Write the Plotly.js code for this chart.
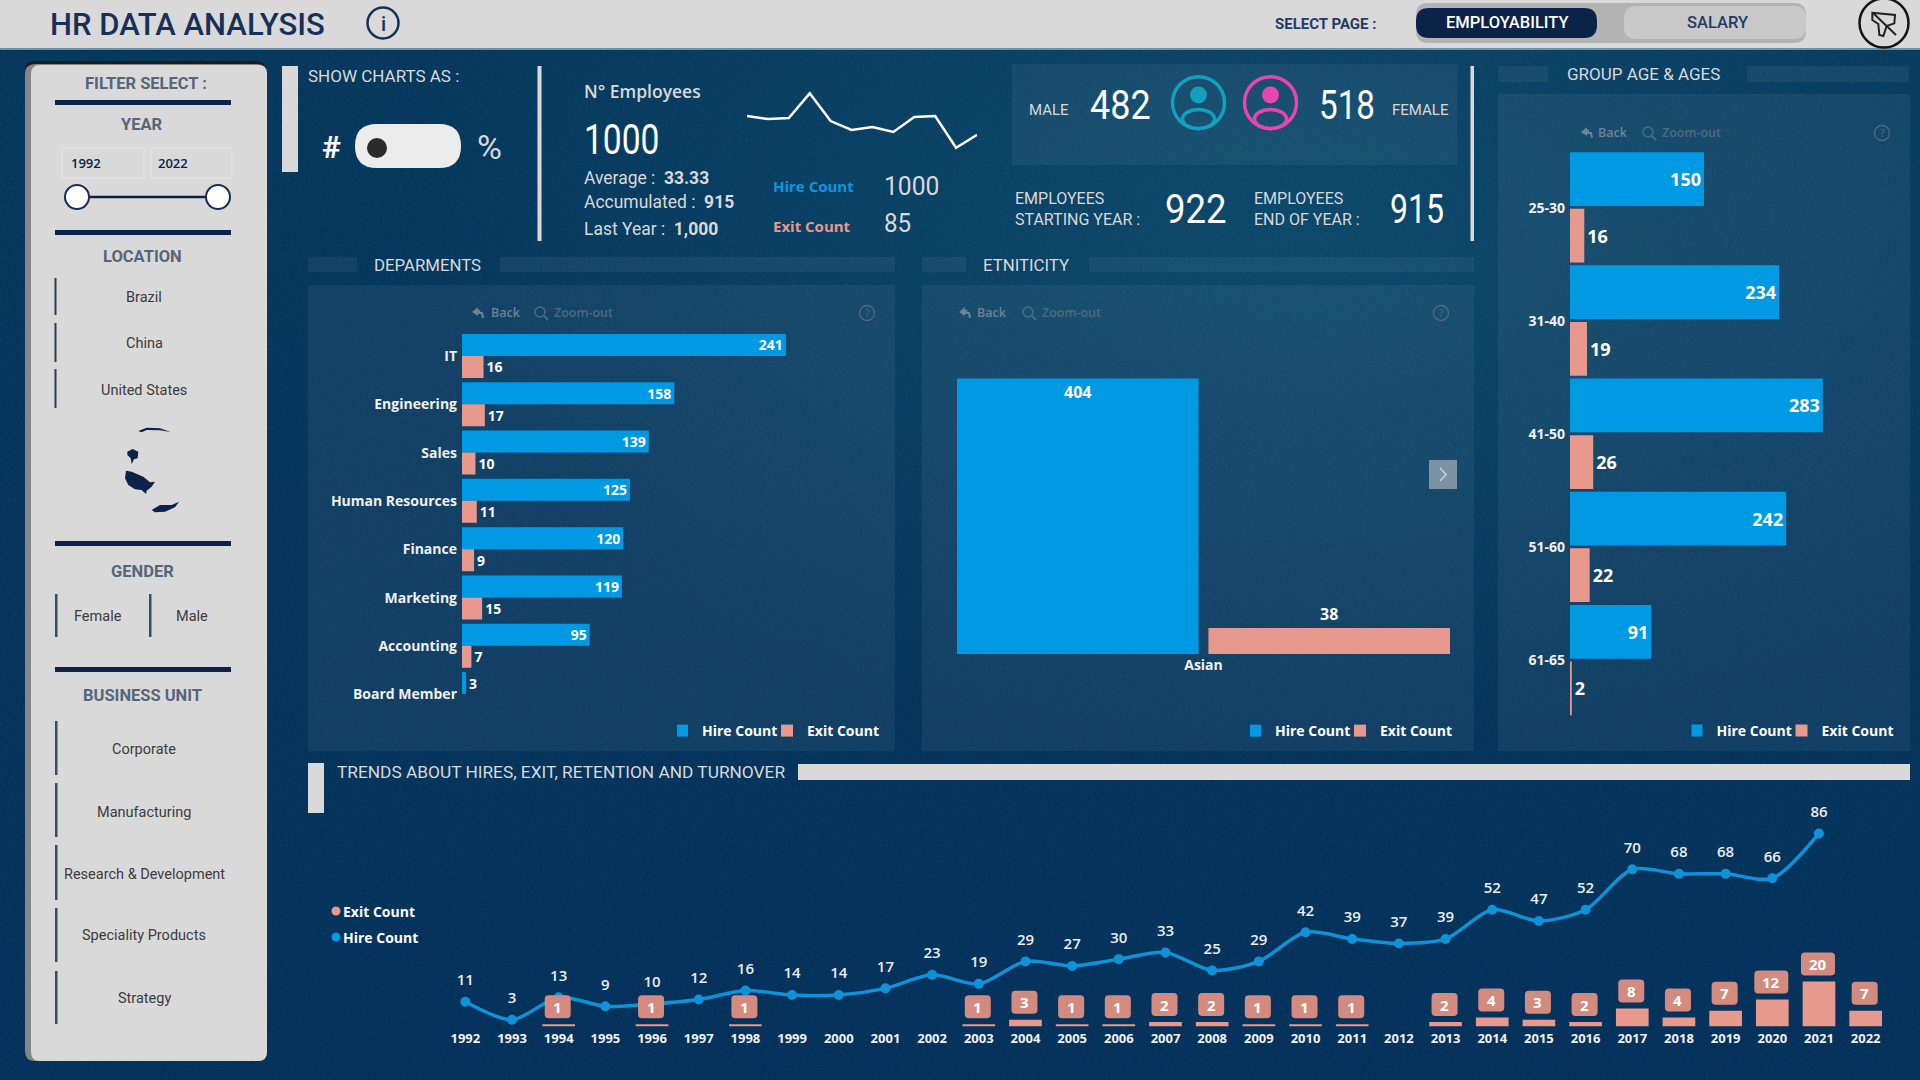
<!DOCTYPE html>
<html><head><meta charset="utf-8"><title>HR Data Analysis</title>
<script src="https://cdn.plot.ly/plotly-3.0.1.min.js"></script>
<style>
html,body{margin:0;padding:0;width:1920px;height:1080px;overflow:hidden;background:#04355b;}
#bg{position:absolute;left:0;top:0;width:1920px;height:1080px;
background:radial-gradient(ellipse 900px 520px at 1300px 230px,#0b4769 0%,rgba(11,71,105,0) 100%),linear-gradient(180deg,#04375c 0%,#02305a 100%);}
#tx{position:absolute;left:0;top:0;width:1920px;height:1080px;opacity:.09;
background-image:url("data:image/svg+xml,%3Csvg xmlns='http://www.w3.org/2000/svg' width='600' height='600'%3E%3Cfilter id='n'%3E%3CfeTurbulence type='fractalNoise' baseFrequency='.35 .55' numOctaves='3' seed='4'/%3E%3CfeColorMatrix values='0 0 0 0 .7 0 0 0 0 .85 0 0 0 0 .95 .9 0 0 0 -.3'/%3E%3C/filter%3E%3Crect width='600' height='600' filter='url(%23n)'/%3E%3C/svg%3E");}
#chart{position:absolute;left:0;top:0;width:1920px;height:1080px;}
</style></head><body>
<div id="bg"></div><div id="tx"></div><div id="chart"></div>
<script>
// ---------- data ----------
const departments = ['IT','Engineering','Sales','Human Resources','Finance','Marketing','Accounting','Board Member'];
const deptHire = [241,158,139,125,120,119,95,3];
const deptExit = [16,17,10,11,9,15,7,null];
const ethnicity = ['Asian'];
const ethnicHire = [404];
const ethnicExit = [38];
const ageGroups = ['25-30','31-40','41-50','51-60','61-65'];
const ageHire = [150,234,283,242,91];
const ageExit = [16,19,26,22,2];
const hireYears = [1992,1993,1994,1995,1996,1997,1998,1999,2000,2001,2002,2003,2004,2005,2006,2007,2008,2009,2010,2011,2012,2013,2014,2015,2016,2017,2018,2019,2020,2021];
const hireByYear = [11,3,13,9,10,12,16,14,14,17,23,19,29,27,30,33,25,29,42,39,37,39,52,47,52,70,68,68,66,86];
const exitYears = [1994,1996,1998,2003,2004,2005,2006,2007,2008,2009,2010,2011,2013,2014,2015,2016,2017,2018,2019,2020,2021,2022];
const exitByYear = [1,1,1,1,3,1,1,2,2,1,1,1,2,4,3,2,8,4,7,12,20,7];
const allYears = [1992,1993,1994,1995,1996,1997,1998,1999,2000,2001,2002,2003,2004,2005,2006,2007,2008,2009,2010,2011,2012,2013,2014,2015,2016,2017,2018,2019,2020,2021,2022];
const months = ['Jan','Feb','Mar','Apr','May','Jun','Jul','Aug','Sep','Oct','Nov','Dec'];
const sparkValues = [90,87,88,113,85,76,79,74,89,90,58,71];
const locations = ['Brazil','China','United States'];
const businessUnits = ['Corporate','Manufacturing','Research & Development','Speciality Products','Strategy'];

// ---------- style ----------
const BLUE='#0099e3', SALMON='#e8998d', BOX='#d48b7f', LIGHT='#d9d9d9', NAVY='#0b2249', WHITE='#ffffff';
const OS='"Open Sans", sans-serif', RB='Roboto, sans-serif';

// ---------- pixel helpers for the dashboard chrome ----------
const X=p=>p/1920, Y=p=>1-p/1080;
const domX=(a,b)=>[X(a),X(b)], domY=(top,bot)=>[Y(bot),Y(top)];
const shapes=[], notes=[], squeeze=[];
function rect(x0,y0,x1,y1,fill){shapes.push({type:'rect',xref:'paper',yref:'paper',x0:X(x0),x1:X(x1),y0:Y(y0),y1:Y(y1),fillcolor:fill,line:{width:0},layer:'below'});}
function rr(x0,y0,x1,y1,r,fill,stroke,sw){
  const q=(a,b,c,d)=>`Q${X(a)},${Y(b)} ${X(c)},${Y(d)}`;
  const path=`M${X(x0+r)},${Y(y0)}L${X(x1-r)},${Y(y0)}${q(x1,y0,x1,y0+r)}L${X(x1)},${Y(y1-r)}${q(x1,y1,x1-r,y1)}L${X(x0+r)},${Y(y1)}${q(x0,y1,x0,y1-r)}L${X(x0)},${Y(y0+r)}${q(x0,y0,x0+r,y0)}Z`;
  shapes.push({type:'path',xref:'paper',yref:'paper',path,fillcolor:fill,line:{width:sw||0,color:stroke||fill},layer:'below'});
}
function circ(cx,cy,rx,ry,fill,stroke,sw){shapes.push({type:'circle',xref:'paper',yref:'paper',x0:X(cx-rx),x1:X(cx+rx),y0:Y(cy+ry),y1:Y(cy-ry),fillcolor:fill,line:{width:sw||0,color:stroke||fill},layer:'below'});}
function seg(x0,y0,x1,y1,color,w){shapes.push({type:'line',xref:'paper',yref:'paper',x0:X(x0),x1:X(x1),y0:Y(y0),y1:Y(y1),line:{color,width:w},layer:'below'});}
function poly(pts,fill,stroke,sw,open){const path=pts.map((p,i)=>(i?'L':'M')+X(p[0])+','+Y(p[1])).join('')+(open?'':'Z');shapes.push({type:'path',xref:'paper',yref:'paper',path,fillcolor:(open||!fill)?'rgba(0,0,0,0)':fill,line:{width:sw||0,color:stroke||fill},layer:'below'});}
function txt(text,x,y,size,color,o){o=o||{};const a=o.a||'center';
  if(o.sx)squeeze.push({i:notes.length,sx:o.sx});
  notes.push({text,xref:'paper',yref:'paper',x:X(a==='left'?x-2:x),y:Y(y),xanchor:a,yanchor:'middle',align:a,showarrow:false,font:{family:o.f||RB,size,color,weight:o.w||400}});}

// ---------- header ----------
rect(0,0,1920,48,LIGHT); rect(0,48,1920,50,'#6f93a6');
txt('HR DATA ANALYSIS',50,25,31,'#17305a',{a:'left',w:500});
circ(383,23,15.5,15.5,'rgba(0,0,0,0)','#17305a',2.5);
txt('i',383,24,20,'#17305a',{w:500});
txt('SELECT PAGE :',1275,24,15,'#253a63',{a:'left',w:700});
rr(1416,3,1806,43,12,'#b3b3b3'); rr(1416,8,1597,38,13,NAVY);
rr(1624,6,1806,39,12,'#c9c9c9');
txt('EMPLOYABILITY',1507,23,16.5,WHITE,{w:500}); txt('SALARY',1717,23,16.5,'#253a63',{w:500});
circ(1884,23,24.5,24.5,'rgba(0,0,0,0)','#141414',2.5);
const lg=(a,b)=>[1840+a/3,b/3];
poly([lg(97,38),lg(165,45),lg(163,70),lg(140,78),lg(130,108),lg(118,105),lg(115,72),lg(97,60)],null,'#222',2,false);
seg(1840+100/3,40/3,1840+168/3,105/3,'#222',2);

// ---------- filter panel ----------
rr(25,61,266,90,10,'#1c1c1c'); rr(25,64,267,1061,10,'#868686'); rr(31,65,267,1061,9,LIGHT);
const head='#566679';
txt('FILTER SELECT :',146,84,16.5,head,{w:700});
rect(55,100,231,105,NAVY);
txt('YEAR',142,124,16.5,head,{w:700});
rr(62,148,144,178,0,'rgba(0,0,0,0)','#e6e6e6',1); rr(151,148,232,178,0,'rgba(0,0,0,0)','#e6e6e6',1);
txt('1992',71,163,13,NAVY,{a:'left',w:600,f:OS}); txt('2022',158,163,13,NAVY,{a:'left',w:600,f:OS});
seg(77,197,218,197,NAVY,2.5);
circ(77,197,12,12,WHITE,'#1a2c52',2); circ(218,197,12,12,WHITE,'#1a2c52',2);
rect(55,230,231,235,NAVY);
txt('LOCATION',142,256,16.5,head,{w:700});
[[278,315,297],[323,362,343],[369,408,390]].forEach((r,i)=>{rect(54.5,r[0],56.5,r[1],'#2a3a5e');txt(locations[i],144,r[2],14.5,'#3c3c3c');});
// small map silhouette (selected countries of the map slicer)
const mp=a=>a.map(p=>[p[0]/3,50+p[1]/3]);
poly(mp([[415,1143],[440,1133],[480,1135],[512,1146],[480,1141],[440,1140],[425,1147]]),NAVY);
poly(mp([[382,1205],[398,1197],[415,1205],[413,1225],[402,1228],[395,1242],[392,1225],[382,1215]]),NAVY);
poly(mp([[378,1262],[395,1265],[430,1280],[450,1297],[465,1295],[455,1310],[440,1322],[438,1332],[425,1320],[405,1318],[385,1305],[375,1285]]),NAVY);
poly(mp([[455,1380],[480,1365],[515,1365],[537,1355],[525,1372],[495,1385],[465,1387]]),NAVY);
rect(55,541,231,546,NAVY);
txt('GENDER',142,571,16.5,head,{w:700});
rect(55,594,57.5,637,'#3a4a6c'); rect(149,594,151.5,637,'#3a4a6c');
txt('Female',98,616,14.5,'#3c3c3c'); txt('Male',192,616,14.5,'#3c3c3c');
rect(55,667,231,672,NAVY);
txt('BUSINESS UNIT',142,695,16.5,head,{w:700});
[[721,775,749],[783,837,812],[845,900,874],[908,962,935],[971,1024,998]].forEach((r,i)=>{rect(55,r[0],57.5,r[1],'#3a4a6c');txt(businessUnits[i].replace('&','&amp;'),144,r[2],14.5,'#3c3c3c');});

// ---------- KPI strip ----------
rect(282,66,298,172,LIGHT);
txt('SHOW CHARTS AS :',308,76,17,LIGHT,{a:'left'});
txt('#',331,147,32,WHITE,{w:700});
rr(355,124,461,168,22,'#ececec'); circ(377,148,10,10,'#2b2b2b');
txt('%',489,147,34,LIGHT);
rect(537.5,66,541.5,241,LIGHT);
txt('N° Employees',584,91,17.5,LIGHT,{a:'left',w:600,f:OS});
txt('1000',584,139,42,WHITE,{a:'left',sx:.8});
txt('Average :  <b>33.33</b>',584,178,19,LIGHT,{a:'left',sx:.92});
txt('Accumulated :  <b>915</b>',584,202,19,LIGHT,{a:'left',sx:.92});
txt('Last Year :  <b>1,000</b>',584,228,19,LIGHT,{a:'left',sx:.92});
txt('Hire Count',773,186,15,'#0a96e2',{a:'left',w:700,f:OS});
txt('Exit Count',773,226,15,SALMON,{a:'left',w:700,f:OS});
txt('1000',884,186,26,LIGHT,{a:'left',sx:.95});
txt('85',884,223,26,LIGHT,{a:'left',sx:.93});
rr(1012,64,1457,165,0,'rgba(255,255,255,.055)');
txt('MALE',1029,110,15,LIGHT,{a:'left'});
txt('482',1090,106,40,WHITE,{a:'left',sx:.9});
txt('518',1319,106,40,WHITE,{a:'left',sx:.83});
txt('FEMALE',1392,110,15,LIGHT,{a:'left'});
[[1198.5,'#12a0bd'],[1270.5,'#e646ae']].forEach(p=>{
  circ(p[0],102.7,26,26,'rgba(0,0,0,0)',p[1],3.5);
  circ(p[0],95,8.5,8.5,p[1]);
  circ(p[0],119,16,9.5,'rgba(0,0,0,0)',p[1],3.5);
});
txt('EMPLOYEES<br>STARTING YEAR :',1015,209,16,LIGHT,{a:'left'});
txt('922',1165,209,41,WHITE,{a:'left',sx:.89});
txt('EMPLOYEES<br>END OF YEAR :',1254,209,16,LIGHT,{a:'left'});
txt('915',1390,209,41,WHITE,{a:'left',sx:.78});
rect(1470.5,66,1474,241,LIGHT);

// ---------- section bands and panels ----------
const band='rgba(255,255,255,.055)';
rect(308,257,357,272,band); rect(500,257,895,272,band); rr(308,285,895,751,0,band);
txt('DEPARMENTS',427,265,16.8,LIGHT);
rect(922,257,966,272,band); rect(1089,257,1474,272,band); rr(922,285,1474,751,0,band);
txt('ETNITICITY',1026,265,16.8,LIGHT);
rect(1498,66,1548,82,band); rect(1747,66,1909,82,band); rr(1498,94,1910,751,0,band);
txt('GROUP AGE &amp; AGES',1643,74,17,LIGHT);

// visual toolbars
const dim='#6c8398', dim2='#4f6b83';
function toolbar(xa,xb,xm,xz,xq,y){
  poly([[xa+6,y+5],[xa+5,y],[xa,y],[xa+3,y-3]],null,dim,2,true);
  poly([[xa-5,y-1],[xa+1,y-6],[xa+1,y+3]],dim);
  txt('Back',xb,y,12.5,dim,{f:OS,w:600});
  circ(xm-1,y-1,5,5,'rgba(0,0,0,0)',dim2,1.5); seg(xm+3,y+3,xm+7,y+7,dim2,2);
  txt('Zoom-out',xz,y,12.5,dim2,{f:OS,w:600});
  circ(xq,y,7.5,7.5,'rgba(0,0,0,0)',dim2,1.3); txt('?',xq,y,11,dim2,{f:OS});
}
toolbar(477,506,541,583,867,313);
toolbar(964,992,1029,1071,1441,313);
toolbar(1586,1613,1649,1691,1882,133);
rect(1429,460,1457,489,'#7d92a3');
poly([[1440,468],[1446,474.5],[1440,481]],null,'#c9d3da',1.5,true);

// ---------- trends header ----------
rect(308,763,324,813,LIGHT);
txt('TRENDS ABOUT HIRES, EXIT, RETENTION AND TURNOVER',337,772,17.3,LIGHT,{a:'left'});
rect(798,764,1910,780,LIGHT);
circ(336,911,4.5,4.5,SALMON); circ(336,937,4.5,4.5,BLUE);
txt('Exit Count',343,911,14,WHITE,{a:'left',w:700,f:OS});
txt('Hire Count',343,937,14,WHITE,{a:'left',w:700,f:OS});

// ---------- exit labels above the yearly bars, tied to the data scale ----------
function chip(year,val){
  const half=val>=10?17:13, b=6, t=29, r=4, cx=-1;
  const l=cx-half, R=cx+half;
  const path=`M${l+r},${b}L${R-r},${b}Q${R},${b} ${R},${b+r}L${R},${t-r}Q${R},${t} ${R-r},${t}L${l+r},${t}Q${l},${t} ${l},${t-r}L${l},${b+r}Q${l},${b} ${l+r},${b}Z`;
  shapes.push({type:'path',xref:'x4',yref:'y4',xsizemode:'pixel',ysizemode:'pixel',xanchor:year,yanchor:val,path,fillcolor:BOX,line:{width:0},layer:'above'});
  notes.push({text:String(val),xref:'x4',yref:'y4',x:year,y:val,xshift:-1,yshift:17.5,yanchor:'middle',xanchor:'center',showarrow:false,font:{family:OS,size:15,color:WHITE,weight:700}});
}
exitYears.forEach((y,i)=>chip(y,exitByYear[i]));

// ---------- traces ----------
const labelFont={family:OS,size:14,color:WHITE,weight:700};
const hide={visible:false,fixedrange:true};
const traces=[
 {type:'bar',orientation:'h',name:'Hire Count',y:departments,x:deptHire,xaxis:'x',yaxis:'y',width:.455,offset:-.46,marker:{color:BLUE},
  text:deptHire.map(String),textposition:deptHire.map(v=>v<20?'outside':'inside'),insidetextanchor:'end',textangle:0,constraintext:'none',textfont:labelFont,cliponaxis:false,legend:'legend'},
 {type:'bar',orientation:'h',name:'Exit Count',y:departments,x:deptExit,xaxis:'x',yaxis:'y',width:.455,offset:-.005,marker:{color:SALMON},
  text:deptExit.map(v=>v==null?'':String(v)),textposition:'outside',textangle:0,constraintext:'none',textfont:labelFont,cliponaxis:false,legend:'legend'},
 {type:'bar',name:'Hire Count',x:ethnicity,y:ethnicHire,xaxis:'x2',yaxis:'y2',width:.49,offset:-.5,marker:{color:BLUE},
  text:ethnicHire.map(String),textposition:'inside',insidetextanchor:'end',textangle:0,constraintext:'none',textfont:Object.assign({},labelFont,{size:16}),cliponaxis:false,legend:'legend2'},
 {type:'bar',name:'Exit Count',x:ethnicity,y:ethnicExit,xaxis:'x2',yaxis:'y2',width:.49,offset:.01,marker:{color:SALMON},
  text:ethnicExit.map(String),textposition:'outside',textangle:0,constraintext:'none',textfont:Object.assign({},labelFont,{size:16}),cliponaxis:false,legend:'legend2'},
 {type:'bar',orientation:'h',name:'Hire Count',y:ageGroups,x:ageHire,xaxis:'x3',yaxis:'y3',width:.475,offset:-.49,marker:{color:BLUE},
  text:ageHire.map(String),textposition:'inside',insidetextanchor:'end',textangle:0,constraintext:'none',textfont:Object.assign({},labelFont,{size:18}),cliponaxis:false,legend:'legend3'},
 {type:'bar',orientation:'h',name:'Exit Count',y:ageGroups,x:ageExit,xaxis:'x3',yaxis:'y3',width:.475,offset:.01,marker:{color:SALMON},
  text:ageExit.map(String),textposition:'outside',textangle:0,constraintext:'none',textfont:Object.assign({},labelFont,{size:18}),cliponaxis:false,legend:'legend3'},
 {type:'bar',name:'Exit Count',x:exitYears,y:exitByYear,xaxis:'x4',yaxis:'y4',width:.7,marker:{color:SALMON},showlegend:false},
 {type:'scatter',mode:'lines+markers',name:'Hire Count',x:hireYears,y:hireByYear,xaxis:'x4',yaxis:'y4',
  line:{color:'#0f93d8',width:3.5,shape:'spline',smoothing:.8},marker:{color:'#0f93d8',size:10},showlegend:false},
 {type:'scatter',mode:'markers+text',name:'Hire Count labels',x:hireYears,y:hireByYear,xaxis:'x4',yaxis:'y4',
  marker:{size:19,opacity:0},text:hireByYear.map(String),textposition:'top center',textfont:{family:OS,size:15,color:'#ececec',weight:600},cliponaxis:false,showlegend:false},
 {type:'scatter',mode:'lines',name:'N° Employees',x:months,y:sparkValues,xaxis:'x5',yaxis:'y5',line:{color:WHITE,width:2.5},showlegend:false,hoverinfo:'skip'}
];
const legendBase={orientation:'h',bgcolor:'rgba(0,0,0,0)',borderwidth:0,font:{family:OS,size:14,color:WHITE,weight:700},xanchor:'left',yanchor:'middle',traceorder:'normal',itemclick:false,itemdoubleclick:false,indentation:-15,entrywidth:75,entrywidthmode:'pixels'};
const catTick={family:OS,size:14,color:'#f0f0f0',weight:700};
const layout={
 width:1920,height:1080,margin:{l:0,r:0,t:0,b:0,autoexpand:false},paper_bgcolor:'rgba(0,0,0,0)',plot_bgcolor:'rgba(0,0,0,0)',
 barmode:'overlay',dragmode:false,hovermode:false,
 font:{family:OS,color:WHITE},
 xaxis:Object.assign({domain:domX(462,890),range:[0,318.5],anchor:'y'},hide),
 yaxis:{domain:domY(332,718.5),type:'category',categoryorder:'array',categoryarray:departments,autorange:'reversed',anchor:'x',showgrid:false,zeroline:false,showline:false,ticks:'',ticklabelstandoff:4,tickfont:catTick,fixedrange:true},
 xaxis2:{domain:domX(957,1450),type:'category',range:[-.5,.5],anchor:'y2',showgrid:false,zeroline:false,showline:false,ticks:'',ticklabelstandoff:1,tickfont:catTick,fixedrange:true},
 yaxis2:Object.assign({domain:domY(347,654),range:[0,450],anchor:'x2'},hide),
 xaxis3:Object.assign({domain:domX(1570,1905),range:[0,375],anchor:'y3'},hide),
 yaxis3:{domain:domY(151,717),type:'category',categoryorder:'array',categoryarray:ageGroups,autorange:'reversed',anchor:'x3',showgrid:false,zeroline:false,showline:false,ticks:'',ticklabelstandoff:4,tickfont:catTick,fixedrange:true},
 xaxis4:{domain:domX(442,1889),range:[1991.5,2022.5],anchor:'y4',tickmode:'array',tickvals:allYears,ticktext:allYears.map(String),showgrid:false,zeroline:false,showline:false,ticks:'',ticklabelstandoff:2,tickfont:{family:OS,size:13,color:'#f0f0f0',weight:700},fixedrange:true},
 yaxis4:Object.assign({domain:domY(802,1026.5),range:[0,100],anchor:'x4'},hide),
 xaxis5:Object.assign({domain:domX(747,977),type:'category',range:[0,11],anchor:'y5'},hide),
 yaxis5:Object.assign({domain:domY(90,150),range:[55.7,116.4],anchor:'x5'},hide),
 legend:Object.assign({},legendBase,{x:X(677),y:Y(731)}),
 legend2:Object.assign({},legendBase,{x:X(1250),y:Y(731)}),
 legend3:Object.assign({},legendBase,{x:X(1691.5),y:Y(731)}),
 shapes,annotations:notes
};
Plotly.newPlot('chart',traces,layout,{displayModeBar:false,staticPlot:true,responsive:false}).then(()=>{
  // condensed look of the KPI figures: the installed fonts have no narrow cut
  squeeze.forEach(s=>{
    const t=document.querySelector(`#chart .annotation[data-index="${s.i}"] text.annotation-text`);
    if(!t)return;
    const x0=t.getBBox().x;
    t.setAttribute('transform',`translate(${x0},0) scale(${s.sx},1) translate(${-x0},0)`);
  });
});
</script></body></html>
